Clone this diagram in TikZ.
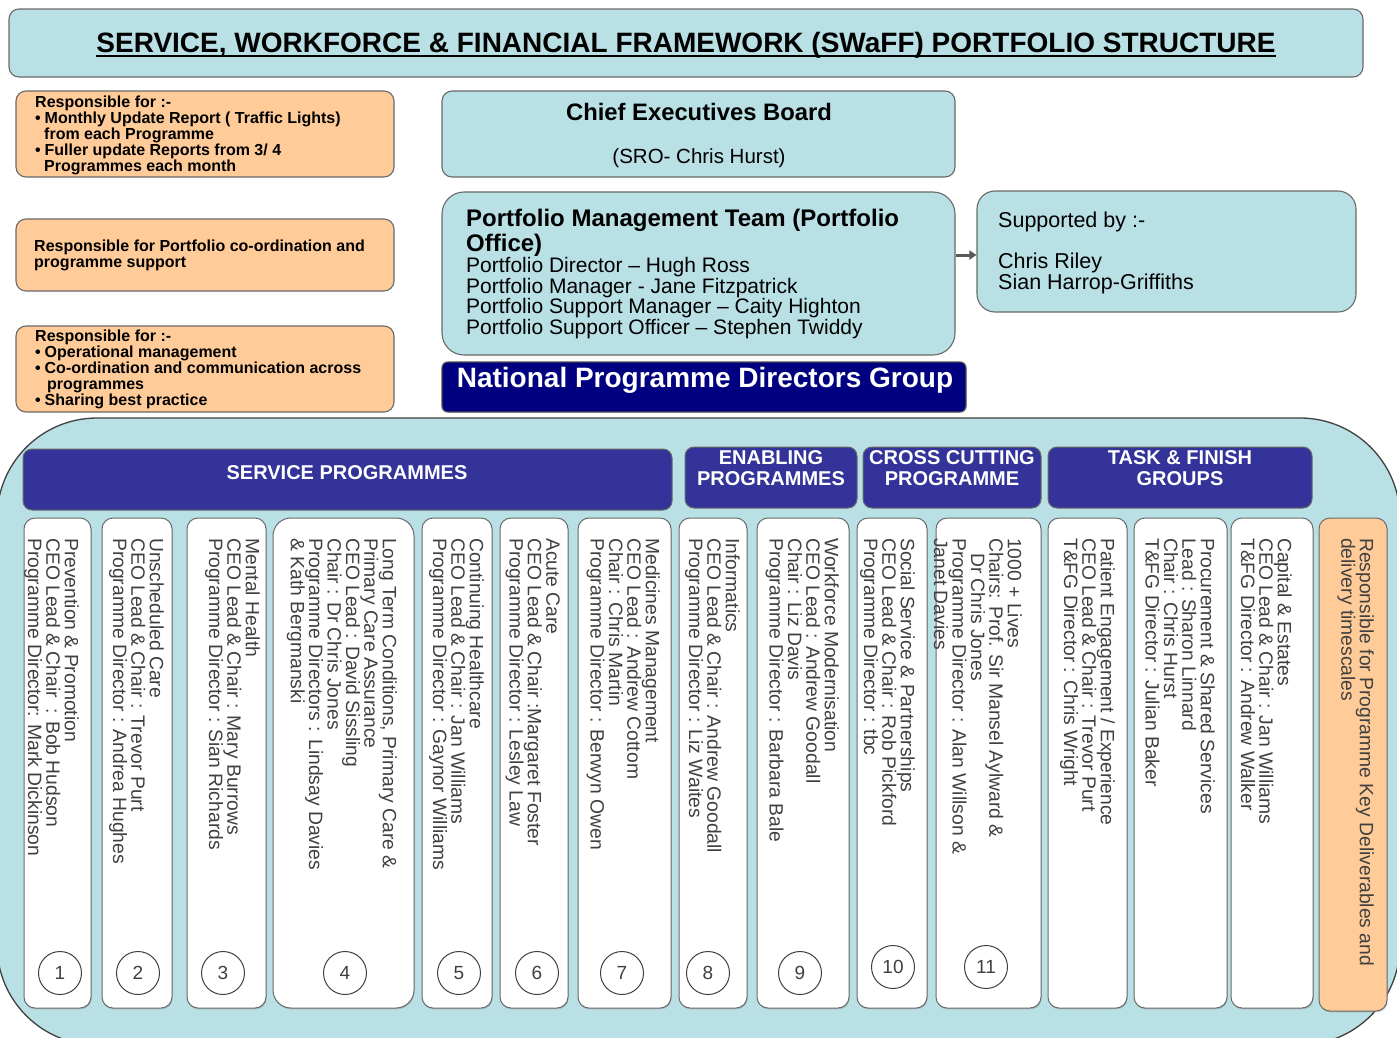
\documentclass[tikz,border=0pt]{standalone}
\usepackage{fontspec}
\setmainfont{Liberation Sans}
\usetikzlibrary{fit,calc,arrows.meta,shadows}

\definecolor{paleblue}{RGB}{185,224,228}
\definecolor{peach}{RGB}{255,204,153}
\definecolor{barblue}{RGB}{51,51,153}
\definecolor{deepnavy}{RGB}{0,0,128}
\definecolor{edgegray}{RGB}{105,105,105}
\definecolor{inkgray}{RGB}{64,64,64}

\newcommand{\fsz}[2]{\fontsize{#1pt}{#2pt}\selectfont}
\newcommand{\blt}{\makebox[9.5pt][l]{•}}

% one programme column: name, left x, right x, top-of-text x, text
\newcommand{\progcol}[5]{%
  \node[colbox, fit={(#2,518)(#3,1008)}] (#1) {};
  \node[coltext] (#1txt) at (#4,538) {#5};
}

\begin{document}
\begin{tikzpicture}[x=1pt,y=-1pt,
  panel/.style={draw=edgegray, line width=1.1pt, inner sep=0pt, rounded corners=10pt},
  bluepanel/.style={panel, fill=paleblue},
  peachpanel/.style={panel, fill=peach},
  headbar/.style={draw=edgegray, line width=1pt, fill=barblue, inner sep=0pt, rounded corners=9pt},
  headtext/.style={text=white, font=\bfseries\fsz{20}{21}, inner sep=0pt, align=center},
  colbox/.style={draw=edgegray, line width=1pt, fill=white, inner sep=0pt, rounded corners=11pt,
    drop shadow={shadow xshift=0.6pt, shadow yshift=-1.4pt, opacity=0.35}},
  coltext/.style={rotate=-90, anchor=north west, inner sep=0pt, align=left, text=inkgray, font=\fsz{19.3}{18.4}},
  numcirc/.style={circle, draw=inkgray, line width=1pt, minimum size=43pt, inner sep=0pt, text=inkgray, font=\fsz{19}{19}},
  btext/.style={anchor=north west, inner sep=0pt, align=left, font=\bfseries\fsz{16}{16}},
  link/.style={draw=black!65, line width=3pt, -{Triangle[length=7pt,width=9pt]}}
]
\path[use as bounding box] (0,0) rectangle (1397,1037);
\clip (0,0) rectangle (1397,1037);

% ---------- title ----------
\node[bluepanel, fit={(9,9)(1363,77)}] (titlebox) {};
\node[anchor=base, inner sep=0pt, font=\bfseries\fsz{28}{30}] (title) at (686,52)
  {SERVICE, WORKFORCE \& FINANCIAL FRAMEWORK (SWaFF) PORTFOLIO STRUCTURE};
\draw[line width=2pt] ([yshift=-4pt]title.base west) -- ([yshift=-4pt]title.base east);

% ---------- responsibilities (left) ----------
\node[peachpanel, fit={(16,91)(394,177)}] (resp1) {};
\node[btext] (resp1txt) at (35,96) {Responsible for :-\\
  \blt Monthly Update Report ( Traffic Lights)\\
  \hspace*{9pt}from each Programme\\
  \blt Fuller update Reports from 3/ 4\\
  \hspace*{9pt}Programmes each month};

\node[peachpanel, fit={(16,219)(394,291)}] (resp2) {};
\node[btext] (resp2txt) at (34,240) {Responsible for Portfolio co-ordination and\\programme support};

\node[peachpanel, fit={(16,326)(394,412)}] (resp3) {};
\node[btext] (resp3txt) at (35,330) {Responsible for :-\\
  \blt Operational management\\
  \blt Co-ordination and communication across\\
  \hspace*{12pt}programmes\\
  \blt Sharing best practice};

% ---------- governance boxes ----------
\node[bluepanel, fit={(442,91)(955,177)}] (ceb) {};
\node[anchor=base, inner sep=0pt, font=\bfseries\fsz{23.8}{25}] (cebhead) at (699,120.3) {Chief Executives Board};
\node[anchor=base, inner sep=0pt, font=\fsz{20.5}{22}] (cebsro) at (699,163) {(SRO- Chris Hurst)};

\node[bluepanel, rounded corners=22pt, fit={(442,192)(955,355)}] (pmt) {};
\node[anchor=north west, inner sep=0pt, align=left, font=\bfseries\fsz{24}{25}] (pmthead) at (466,209)
  {Portfolio Management Team (Portfolio\\Office)};
\node[anchor=north west, inner sep=0pt, align=left, font=\fsz{21}{20.7}] (pmtlist) at (466,257)
  {Portfolio Director – Hugh Ross\\
   Portfolio Manager - Jane Fitzpatrick\\
   Portfolio Support Manager – Caity Highton\\
   Portfolio Support Officer – Stephen Twiddy};

\node[bluepanel, rounded corners=18pt, fit={(977,191)(1356,312)}] (sup) {};
\node[anchor=north west, inner sep=0pt, align=left, font=\fsz{21.5}{20.5}] (suptxt) at (998,212)
  {Supported by :-\\[20.5pt]Chris Riley\\Sian Harrop-Griffiths};

\draw[link] ($(pmt.east |- sup.west)+(0,3.5)$) -- ($(sup.west)+(0,3.5)$);

\node[draw=black!70, line width=1.2pt, fill=deepnavy, inner sep=0pt, rounded corners=6pt, fit={(442,362)(966,412)}] (npdg) {};
\node[anchor=base, inner sep=0pt, text=white, font=\bfseries\fsz{28}{30}] (npdgtxt) at (705,387)
  {National Programme Directors Group};

% ---------- programme container ----------
\draw[draw=black!75, line width=1.3pt, fill=paleblue, rounded corners=100pt] (-3,418) rectangle (1400,1045);

\node[headbar, fit={(23,449)(672,510)}] (hserv) {};
\node[headtext, anchor=base] (hservtxt) at (347,479) {SERVICE PROGRAMMES};
\node[headbar, fit={(685,447)(857,508)}] (henab) {};
\node[headtext, anchor=north] (henabtxt) at (771,450.7) {ENABLING\\PROGRAMMES};
\node[headbar, fit={(863,447)(1041,508)}] (hcross) {};
\node[headtext, anchor=north] (hcrosstxt) at (952,450.7) {CROSS CUTTING\\PROGRAMME};
\node[headbar, fit={(1048,447)(1312,508)}] (htask) {};
\node[headtext, anchor=north] (htasktxt) at (1180,450.7) {TASK \& FINISH\\GROUPS};

% ---------- programme columns ----------
\progcol{c1}{24}{91}{79}{Prevention \& Promotion\\CEO Lead \& Chair\ \ : Bob Hudson\\Programme Director: Mark Dickinson}
\progcol{c2}{102}{172}{164}{Unscheduled Care\\CEO Lead \& Chair : Trevor Purt\\Programme Director : Andrea Hughes}
\progcol{c3}{187}{266}{260}{Mental Health\\CEO Lead \& Chair : Mary Burrows\\Programme Director : Sian Richards}
\node[colbox, rounded corners=18pt, fit={(273,518)(414,1008)}] (c4) {};
\node[coltext] (c4txt) at (397,538) {Long Term Conditions, Primary Care \&\\Primary Care Assurance\\CEO Lead : David Sissling\\Chair : Dr Chris Jones\\Programme Directors : Lindsay Davies\\\& Kath Bergmanski};
\progcol{c5}{422}{492}{484}{Continuing Healthcare\\CEO Lead \& Chair : Jan Williams\\Programme Director : Gaynor Williams}
\progcol{c6}{500}{568}{560}{Acute Care\\CEO Lead \& Chair :Margaret Foster\\Programme Director : Lesley Law}
\progcol{c7}{578}{671}{660}{Medicines Management\\CEO Lead : Andrew Cottom\\Chair : Chris Martin\\Programme Director : Berwyn Owen}
\progcol{c8}{679}{747}{740}{Informatics\\CEO Lead \& Chair : Andrew Goodall\\Programme Director : Liz Waites}
\progcol{c9}{757}{849}{839}{Workforce Modernisation\\CEO Lead : Andrew Goodall\\Chair : Liz Davis\\Programme Director : Barbara Bale}
\progcol{c10}{857}{927}{915}{Social Service \& Partnerships\\CEO Lead \& Chair : Rob Pickford\\Programme Director : tbc}
\progcol{c11}{936}{1041}{1022}{1000 + Lives\\Chairs: Prof. Sir Mansel Aylward \&\\\hspace*{15pt}Dr Chris Jones\\Programme Director : Alan Willson \&\\Janet Davies}
\progcol{c12}{1048}{1127}{1115}{Patient Engagement / Experience\\CEO Lead \& Chair : Trevor Purt\\T\&FG Director : Chris Wright}
\progcol{c13}{1134}{1227}{1215}{Procurement \& Shared Services\\Lead : Sharon Linnard\\Chair : Chris Hurst\\T\&FG Director : Julian Baker}
\progcol{c14}{1231}{1313}{1292}{Capital \& Estates\\CEO Lead \& Chair : Jan Williams\\T\&FG Director : Andrew Walker}

\node[colbox, fill=peach, fit={(1319,518)(1387,1011)}] (deliv) {};
\node[coltext] (delivtxt) at (1374,538) {Responsible for Programme Key Deliverables and\\delivery timescales};

% ---------- programme numbers ----------
\node[numcirc] (n1) at (60,973) {1};
\node[numcirc] (n2) at (138,973) {2};
\node[numcirc] (n3) at (223,973) {3};
\node[numcirc] (n4) at (345,973) {4};
\node[numcirc] (n5) at (459,973) {5};
\node[numcirc] (n6) at (537,973) {6};
\node[numcirc] (n7) at (622,973) {7};
\node[numcirc] (n8) at (708,973) {8};
\node[numcirc] (n9) at (800,973) {9};
\node[numcirc] (n10) at (893,967) {10};
\node[numcirc] (n11) at (986,967) {11};
\end{tikzpicture}
\end{document}
